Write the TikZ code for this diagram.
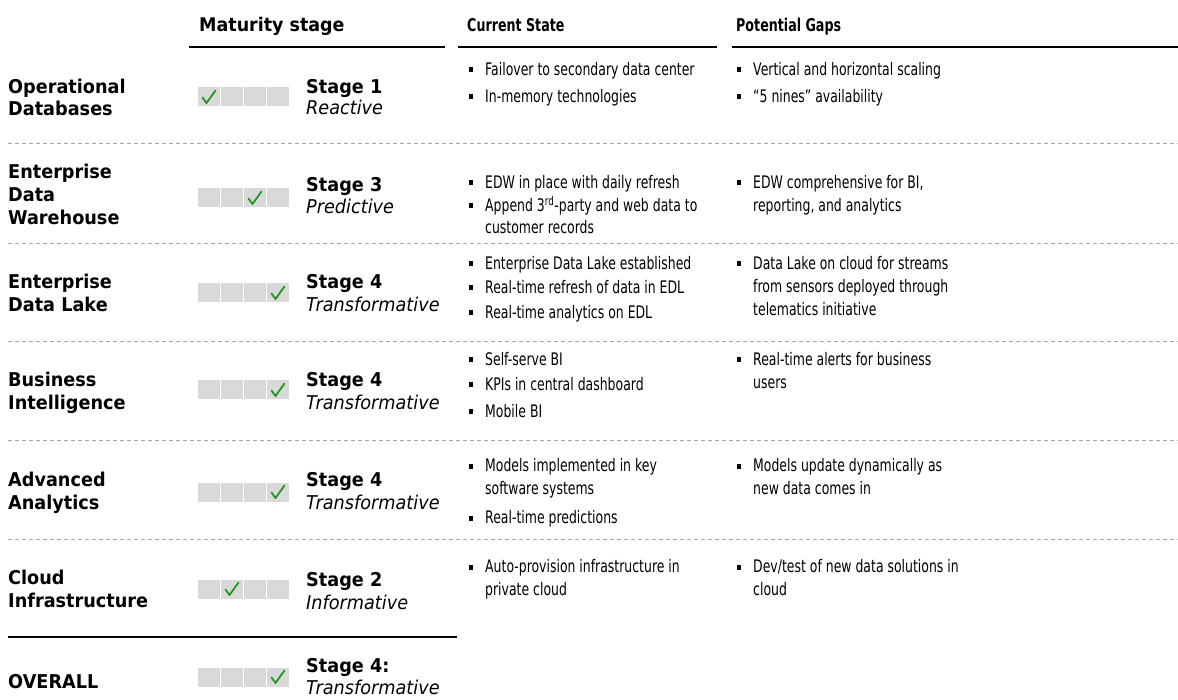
\documentclass[tikz,border=0pt]{standalone}
\usepackage{fontspec}
\setmainfont{DejaVu Sans}
\newfontfamily\fL{DejaVu Sans}[FakeStretch=0.93]
\newfontfamily\fR{DejaVu Sans}[FakeStretch=0.72]
\definecolor{cellgray}{RGB}{217,217,217}
\definecolor{chk}{RGB}{34,150,34}
\definecolor{dashgray}{RGB}{165,165,165}
\tikzset{
 lab/.style={anchor=base west, inner sep=0pt, font=\fL\bfseries\fontsize{19}{23}\selectfont},
 stgi/.style={anchor=base west, inner sep=0pt, font=\fL\itshape\fontsize{19}{23}\selectfont},
 hdl/.style={anchor=base west, inner sep=0pt, font=\fL\bfseries\fontsize{18.8}{20}\selectfont},
 hdr/.style={anchor=base west, inner sep=0pt, font=\fR\bfseries\fontsize{17.6}{20}\selectfont},
 txt/.style={anchor=base west, inner sep=0pt, font=\fR\fontsize{17.3}{22}\selectfont},
 bul/.style={fill=black, minimum width=4.5pt, minimum height=5pt, inner sep=0pt, draw=none},
 cell/.style={fill=cellgray, minimum width=22pt, minimum height=19pt, inner sep=0pt, draw=none},
 sep/.style={dashgray, line width=0.8pt, dash pattern=on 4pt off 3pt},
 rulel/.style={black, line width=2pt},
 ck/.style={chk, line width=1.8pt, line cap=round, line join=round},
}
% bar: name, y center, checked cell
\newcommand{\mbar}[3]{%
 \foreach \i in {1,...,4}{\node[cell] (#1c\i) at ({209+23*(\i-1)}, #2) {};}
 \draw[ck] ([shift={(-6.5,0.5)}]#1c#3.center) -- ([shift={(-2.5,6)}]#1c#3.center) -- ([shift={(6.5,-6.5)}]#1c#3.center);
}
% bullet item: name, bullet x, y center, text
\newcommand{\bitem}[4]{%
 \node[bul] (#1b) at (#2, #3+1) {};
 \node[txt] (#1) at (#2+14, #3+6.3) {#4};
}
% continuation line: name, bullet x, y center, text
\newcommand{\contline}[4]{%
 \node[txt] (#1) at (#2+14, #3+6.3) {#4};
}
% left label line: name, x, y center, text
\newcommand{\lbline}[4]{\node[lab] (#1) at (#2, #3+6.9) {#4};}
\newcommand{\itline}[4]{\node[stgi] (#1) at (#2, #3+6.9) {#4};}
\begin{document}
\begin{tikzpicture}[x=1pt,y=-1pt]
\useasboundingbox (0,0) rectangle (1178,700);
\fill[white] (0,0) rectangle (1178,700);
% headers
\node[hdl] (h1) at (199,32) {Maturity stage};
\node[hdr] (h2) at (467,32) {Current State};
\node[hdr] (h3) at (736,32) {Potential Gaps};
\draw[rulel] (189,47) -- (445,47);
\draw[rulel] (458,47) -- (717,47);
\draw[rulel] (732,47) -- (1178,47);
% separators
\foreach \yy in {143,243,341,440,539}{\draw[sep] (8,\yy) -- (1178,\yy);}
\draw[rulel] (8,637) -- (457,637);
% Row 1
\lbline{r1a}{8}{87}{Operational}
\lbline{r1b}{8}{109}{Databases}
\mbar{b1}{97}{1}
\lbline{s1a}{306}{87}{Stage 1}
\itline{s1b}{306}{108}{Reactive}
\bitem{c1a}{471}{69}{Failover to secondary data center}
\bitem{c1b}{471}{96}{In-memory technologies}
\bitem{p1a}{739}{69}{Vertical and horizontal scaling}
\bitem{p1b}{739}{96}{“5 nines” availability}
% Row 2
\lbline{r2a}{8}{172}{Enterprise}
\lbline{r2b}{8}{195}{Data}
\lbline{r2c}{8}{218}{Warehouse}
\mbar{b2}{198}{3}
\lbline{s2a}{306}{185}{Stage 3}
\itline{s2b}{306}{207}{Predictive}
\bitem{c2a}{471}{182}{EDW in place with daily refresh}
\bitem{c2b}{471}{205}{Append 3\textsuperscript{rd}-party and web data to}
\contline{c2c}{471}{227}{customer records}
\bitem{p2a}{739}{182}{EDW comprehensive for BI,}
\contline{p2b}{739}{205}{reporting, and analytics}
% Row 3
\lbline{r3a}{8}{282}{Enterprise}
\lbline{r3b}{8}{305}{Data Lake}
\mbar{b3}{293}{4}
\lbline{s3a}{306}{282}{Stage 4}
\itline{s3b}{306}{305}{Transformative}
\bitem{c3a}{471}{263}{Enterprise Data Lake established}
\bitem{c3b}{471}{287}{Real-time refresh of data in EDL}
\bitem{c3c}{471}{312}{Real-time analytics on EDL}
\bitem{p3a}{739}{263}{Data Lake on cloud for streams}
\contline{p3b}{739}{286}{from sensors deployed through}
\contline{p3c}{739}{309}{telematics initiative}
% Row 4
\lbline{r4a}{8}{380}{Business}
\lbline{r4b}{8}{403}{Intelligence}
\mbar{b4}{390}{4}
\lbline{s4a}{306}{380}{Stage 4}
\itline{s4b}{306}{403}{Transformative}
\bitem{c4a}{471}{359}{Self-serve BI}
\bitem{c4b}{471}{384}{KPIs in central dashboard}
\bitem{c4c}{471}{411}{Mobile BI}
\bitem{p4a}{739}{359}{Real-time alerts for business}
\contline{p4b}{739}{382}{users}
% Row 5
\lbline{r5a}{8}{480}{Advanced}
\lbline{r5b}{8}{503}{Analytics}
\mbar{b5}{492}{4}
\lbline{s5a}{306}{480}{Stage 4}
\itline{s5b}{306}{503}{Transformative}
\bitem{c5a}{471}{465}{Models implemented in key}
\contline{c5b}{471}{488}{software systems}
\bitem{c5c}{471}{517}{Real-time predictions}
\bitem{p5a}{739}{465}{Models update dynamically as}
\contline{p5b}{739}{488}{new data comes in}
% Row 6
\lbline{r6a}{8}{578}{Cloud}
\lbline{r6b}{8}{601}{Infrastructure}
\mbar{b6}{589}{2}
\lbline{s6a}{306}{580}{Stage 2}
\itline{s6b}{306}{603}{Informative}
\bitem{c6a}{471}{566}{Auto-provision infrastructure in}
\contline{c6b}{471}{589}{private cloud}
\bitem{p6a}{739}{566}{Dev/test of new data solutions in}
\contline{p6b}{739}{589}{cloud}
% Overall
\lbline{r7a}{8}{682}{OVERALL}
\mbar{b7}{677}{4}
\lbline{s7a}{306}{666}{Stage 4:}
\itline{s7b}{306}{688}{Transformative}
\end{tikzpicture}
\end{document}
